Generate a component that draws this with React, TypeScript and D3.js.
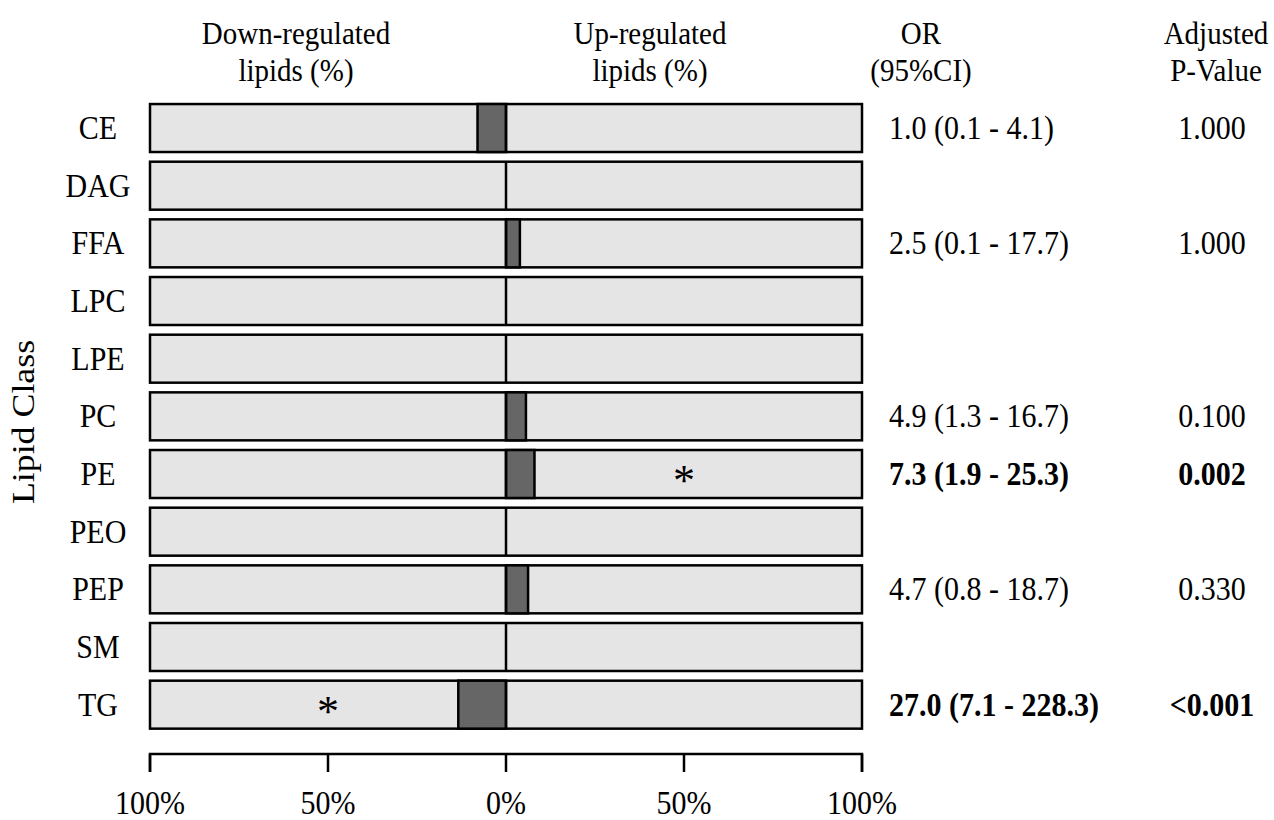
import React from "react";
import * as d3 from "d3";

const categories = ["CE", "DAG", "FFA", "LPC", "LPE", "PC", "PE", "PEO", "PEP", "SM", "TG"];
const downPct = [8.0, 0, 0, 0, 0, 0, 0, 0, 0, 0, 13.4];
const upPct = [0, 0, 3.9, 0, 0, 5.6, 8.0, 0, 6.2, 0, 0];
const orText = ["1.0 (0.1 - 4.1)", "", "2.5 (0.1 - 17.7)", "", "", "4.9 (1.3 - 16.7)", "7.3 (1.9 - 25.3)", "", "4.7 (0.8 - 18.7)", "", "27.0 (7.1 - 228.3)"];
const pText = ["1.000", "", "1.000", "", "", "0.100", "0.002", "", "0.330", "", "<0.001"];
const significant = [false, false, false, false, false, false, true, false, false, false, true];
const starSide = ["", "", "", "", "", "", "up", "", "", "", "down"];
const xTicks = [-100, -50, 0, 50, 100];

const W = 1274;
const H = 820;
const FONT = "'Liberation Serif', 'Times New Roman', serif";
const SY = 1.12;

function T(props: {
  x: number;
  y: number;
  anchor?: string;
  size?: number;
  bold?: boolean;
  children: React.ReactNode;
}) {
  const { x, y, anchor = "start", size = 30, bold = false, children } = props;
  return (
    <text
      transform={`translate(${x},${y}) scale(1,${SY})`}
      textAnchor={anchor}
      fontSize={size}
      fontWeight={bold ? "bold" : "normal"}
      fill="#000"
    >
      {children}
    </text>
  );
}

export default function App() {
  const x = d3.scaleLinear().domain([-100, 100]).range([150, 862]);
  const y = d3
    .scaleBand<string>()
    .domain(categories)
    .range([99.2, 733.5])
    .paddingInner(0.168)
    .paddingOuter(0.084);
  const bw = y.bandwidth();
  const axisY = 754;
  const tickLen = 18;

  return (
    <svg
      width={W}
      height={H}
      style={{ position: "absolute", left: 0, top: 0, background: "#fff" }}
      fontFamily={FONT}
    >
      {/* headers */}
      <T x={296} y={44} anchor="middle" size={29}>Down-regulated</T>
      <T x={296} y={81} anchor="middle" size={29}>lipids (%)</T>
      <T x={650} y={44} anchor="middle" size={29}>Up-regulated</T>
      <T x={650} y={81} anchor="middle" size={29}>lipids (%)</T>
      <T x={921} y={44} anchor="middle" size={29}>OR</T>
      <T x={921} y={81} anchor="middle" size={29}>(95%CI)</T>
      <T x={1216} y={44} anchor="middle" size={29}>Adjusted</T>
      <T x={1216} y={81} anchor="middle" size={29}>P-Value</T>

      {/* y title */}
      <text
        transform={`translate(${34},${422}) rotate(-90) scale(${SY},1)`}
        textAnchor="middle"
        fontSize={32}
      >
        Lipid Class
      </text>

      {categories.map((c, i) => {
        const y0 = y(c)!;
        const cy = y0 + bw / 2;
        const bold = significant[i];
        return (
          <g key={c}>
            <rect
              x={x(-100)}
              y={y0}
              width={x(100) - x(-100)}
              height={bw}
              fill="#e5e5e5"
              stroke="#000"
              strokeWidth={2.5}
            />
            {downPct[i] > 0 && (
              <rect
                x={x(-downPct[i])}
                y={y0}
                width={x(0) - x(-downPct[i])}
                height={bw}
                fill="#666666"
                stroke="#000"
                strokeWidth={2.5}
              />
            )}
            {upPct[i] > 0 && (
              <rect
                x={x(0)}
                y={y0}
                width={x(upPct[i]) - x(0)}
                height={bw}
                fill="#666666"
                stroke="#000"
                strokeWidth={2.5}
              />
            )}
            <line x1={x(0)} x2={x(0)} y1={y0} y2={y0 + bw} stroke="#000" strokeWidth={2.5} />
            {starSide[i] && (
              <text
                x={x(starSide[i] === "up" ? 50 : -50)}
                y={cy + 21}
                textAnchor="middle"
                fontSize={44}
              >
                *
              </text>
            )}
            <T x={98} y={cy + 11} anchor="middle">{c}</T>
            <T x={889} y={cy + 11} bold={bold}>{orText[i]}</T>
            <T x={1212} y={cy + 11} anchor="middle" bold={bold}>{pText[i]}</T>
          </g>
        );
      })}

      {/* x axis */}
      <path
        d={`M${x(-100)},${axisY + tickLen}V${axisY}H${x(100)}V${axisY + tickLen}`}
        fill="none"
        stroke="#000"
        strokeWidth={2.5}
      />
      {xTicks.map((t) => (
        <g key={t}>
          <line x1={x(t)} x2={x(t)} y1={axisY} y2={axisY + tickLen} stroke="#000" strokeWidth={2.5} />
          <T x={x(t)} y={814} anchor="middle">{Math.abs(t)}%</T>
        </g>
      ))}
    </svg>
  );
}
